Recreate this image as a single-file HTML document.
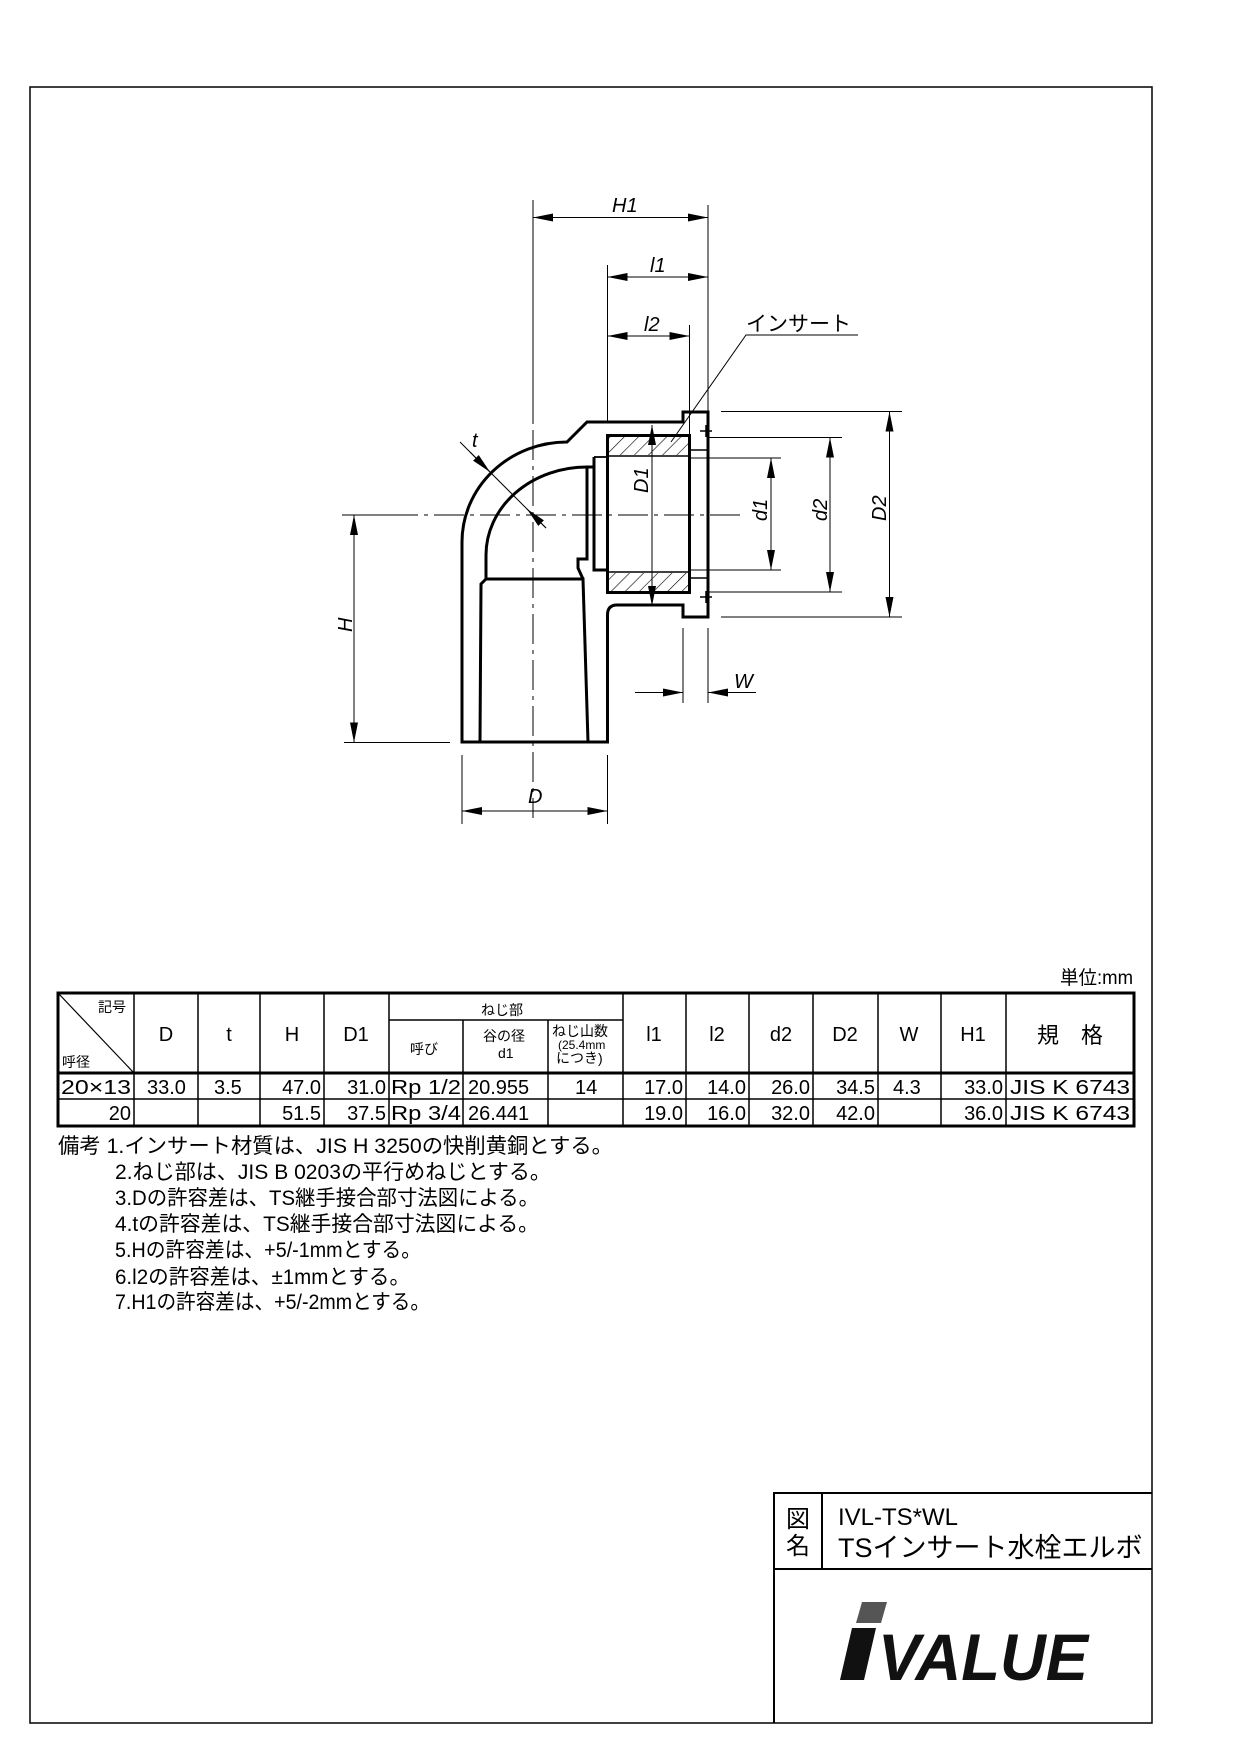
<!DOCTYPE html>
<html><head><meta charset="utf-8"><style>
html,body{margin:0;padding:0;background:#fff}
svg{display:block}
text{font-family:"Liberation Sans","Noto Sans CJK JP",sans-serif;fill:#000}
</style></head><body>
<svg width="1240" height="1753" viewBox="0 0 1240 1753" xmlns="http://www.w3.org/2000/svg">
<defs>
<marker id="a" viewBox="0 0 20 8" refX="20" refY="4" markerWidth="20" markerHeight="8" markerUnits="userSpaceOnUse" orient="auto-start-reverse"><path d="M0,0L20,4L0,8z" fill="#000"/></marker>
<pattern id="h" width="10" height="10" patternUnits="userSpaceOnUse" patternTransform="rotate(45)"><line x1="0" y1="0" x2="0" y2="10" stroke="#000" stroke-width="1.2"/></pattern>
</defs>
<rect x="30" y="87" width="1122" height="1636" fill="none" stroke="#000" stroke-width="1.5"/>

<g stroke="#000" stroke-width="1" fill="none">
<line x1="342" y1="515" x2="740" y2="515" stroke-dasharray="30,6,4,6"/>
<line x1="533" y1="200" x2="533" y2="818" stroke-dasharray="30,6,4,6"/>
</g>
<g stroke="#000" stroke-width="3" fill="none" stroke-linejoin="miter">
<path d="M462,742 L462,542 A105,100 0 0 1 567,442 L587,422 L683,422 L683,412 L708,412 L708,617 L683,617 L683,605 L617,605 Q607.5,605 607.5,615 L607.5,742 Z"/>
<path d="M480,742 L481,584 L486,579 L583,579 L588,742"/>
<path d="M486,579 L486,555 A101,88 0 0 1 587,467 L594,467"/>
<path d="M594,457 L594,570 L607,570"/>
<path d="M587,467 L587,559 L578,559 L578,568 L583,579"/>
<rect x="607.5" y="435.5" width="82" height="157"/>
</g>
<g stroke="#000" stroke-width="1.8" fill="none">
<line x1="594" y1="457" x2="607" y2="457"/>
</g>
<rect x="609" y="437" width="79" height="18" fill="url(#h)"/>
<rect x="609" y="573" width="79" height="18" fill="url(#h)"/>
<g stroke="#000" stroke-width="1.5">
<line x1="607.5" y1="456" x2="689.5" y2="456"/>
<line x1="607.5" y1="572" x2="689.5" y2="572"/>
<line x1="689.5" y1="450" x2="708" y2="450"/>
<line x1="689.5" y1="578" x2="708" y2="578"/>
<line x1="700" y1="431" x2="712" y2="431"/><line x1="706" y1="425" x2="706" y2="437"/>
<line x1="700" y1="597" x2="712" y2="597"/><line x1="706" y1="591" x2="706" y2="603"/>
</g>

<g stroke="#000" stroke-width="1" fill="none">
<line x1="533" y1="205" x2="533" y2="420"/>
<line x1="708" y1="205" x2="708" y2="412"/>
<line x1="533" y1="217.5" x2="708" y2="217.5" marker-start="url(#a)" marker-end="url(#a)"/>
<line x1="607.5" y1="265" x2="607.5" y2="422"/>
<line x1="607.5" y1="277" x2="708" y2="277" marker-start="url(#a)" marker-end="url(#a)"/>
<line x1="689.5" y1="325" x2="689.5" y2="435"/>
<line x1="607.5" y1="336" x2="689.5" y2="336" marker-start="url(#a)" marker-end="url(#a)"/>
<polyline points="858,335 746,335 671,442"/>
<line x1="689.5" y1="458" x2="781" y2="458"/>
<line x1="689.5" y1="570" x2="781" y2="570"/>
<line x1="771" y1="458" x2="771" y2="570" marker-start="url(#a)" marker-end="url(#a)"/>
<line x1="708" y1="437.5" x2="842" y2="437.5"/>
<line x1="708" y1="592" x2="842" y2="592"/>
<line x1="830" y1="437.5" x2="830" y2="592" marker-start="url(#a)" marker-end="url(#a)"/>
<line x1="721" y1="411.5" x2="902" y2="411.5"/>
<line x1="721" y1="617" x2="902" y2="617"/>
<line x1="889.5" y1="411.5" x2="889.5" y2="617" marker-start="url(#a)" marker-end="url(#a)"/>
<line x1="652" y1="425" x2="652" y2="606" marker-start="url(#a)" marker-end="url(#a)"/>
<line x1="344" y1="515" x2="400" y2="515"/>
<line x1="344" y1="742.5" x2="450" y2="742.5"/>
<line x1="354" y1="515" x2="354" y2="742.5" marker-start="url(#a)" marker-end="url(#a)"/>
<line x1="462" y1="755" x2="462" y2="824"/>
<line x1="607.5" y1="755" x2="607.5" y2="824"/>
<line x1="462" y1="811" x2="607.5" y2="811" marker-start="url(#a)" marker-end="url(#a)"/>
<line x1="683" y1="628" x2="683" y2="703"/>
<line x1="708" y1="628" x2="708" y2="703"/>
<line x1="635" y1="692.5" x2="683" y2="692.5" marker-end="url(#a)"/>
<line x1="756" y1="692.5" x2="708" y2="692.5" marker-end="url(#a)"/>
<line x1="460" y1="442" x2="546" y2="528"/>
<line x1="470" y1="452" x2="490" y2="472" marker-end="url(#a)"/>
<line x1="546" y1="528" x2="527" y2="509" marker-end="url(#a)"/>
</g>
<g font-style="italic" font-size="20">
<text x="612" y="212">H1</text>
<text x="650" y="272">l1</text>
<text x="644" y="331">l2</text>
<text x="746" y="331" font-style="normal" font-size="21">インサート</text>
<text x="528" y="803">D</text>
<text x="734" y="688">W</text>
<text x="472" y="447">t</text>
<text transform="translate(648,493) rotate(-90)">D1</text>
<text transform="translate(767,521) rotate(-90)">d1</text>
<text transform="translate(827,521) rotate(-90)">d2</text>
<text transform="translate(886,521) rotate(-90)">D2</text>
<text transform="translate(352,632) rotate(-90)">H</text>
</g>

<text x="1060" y="984" font-size="19" textLength="73" lengthAdjust="spacingAndGlyphs">単位:mm</text>
<g stroke="#000" fill="none">
<rect x="58" y="993" width="1076" height="133" stroke-width="3"/>
<line x1="58" y1="1073" x2="1134" y2="1073" stroke-width="3"/>
<line x1="58" y1="1099" x2="1134" y2="1099" stroke-width="1.5"/>
<line x1="389" y1="1020" x2="623" y2="1020" stroke-width="1.5"/>
<line x1="58" y1="993" x2="134" y2="1073" stroke-width="1.2"/>
<g stroke-width="1.5">
<line x1="134" y1="993" x2="134" y2="1126"/>
<line x1="198" y1="993" x2="198" y2="1126"/>
<line x1="260" y1="993" x2="260" y2="1126"/>
<line x1="324" y1="993" x2="324" y2="1126"/>
<line x1="389" y1="993" x2="389" y2="1126"/>
<line x1="463" y1="1020" x2="463" y2="1126"/>
<line x1="548" y1="1020" x2="548" y2="1126"/>
<line x1="623" y1="993" x2="623" y2="1126"/>
<line x1="686" y1="993" x2="686" y2="1126"/>
<line x1="749" y1="993" x2="749" y2="1126"/>
<line x1="813" y1="993" x2="813" y2="1126"/>
<line x1="878" y1="993" x2="878" y2="1126"/>
<line x1="941" y1="993" x2="941" y2="1126"/>
<line x1="1006" y1="993" x2="1006" y2="1126"/>
</g>
</g>
<g font-size="14">
<text x="98" y="1012">記号</text>
<text x="62" y="1067">呼径</text>
<text x="481" y="1015">ねじ部</text>
<text x="410" y="1054">呼び</text>
<text x="483" y="1041">谷の径</text>
<text x="498" y="1058">d1</text>
<text x="552" y="1036">ねじ山数</text>
<text x="558" y="1049" font-size="12">(25.4mm</text>
<text x="556" y="1063">につき)</text>
</g>
<g font-size="20" text-anchor="middle">
<text x="166" y="1041">D</text><text x="229" y="1041">t</text><text x="292" y="1041">H</text>
<text x="356" y="1041">D1</text><text x="654" y="1041">l1</text><text x="717" y="1041">l2</text>
<text x="781" y="1041">d2</text><text x="845" y="1041">D2</text><text x="909" y="1041">W</text>
<text x="973" y="1041">H1</text><text x="1070" y="1043" font-size="22">規　格</text>
</g>
<g font-size="20">
<text x="61" y="1094" textLength="70" lengthAdjust="spacingAndGlyphs">20×13</text>
<text x="147" y="1094">33.0</text>
<text x="214" y="1094">3.5</text>
<text x="321" y="1094" text-anchor="end">47.0</text>
<text x="386" y="1094" text-anchor="end">31.0</text>
<text x="391" y="1094" textLength="70" lengthAdjust="spacingAndGlyphs">Rp 1/2</text>
<text x="468" y="1094">20.955</text>
<text x="575" y="1094">14</text>
<text x="683" y="1094" text-anchor="end">17.0</text>
<text x="746" y="1094" text-anchor="end">14.0</text>
<text x="810" y="1094" text-anchor="end">26.0</text>
<text x="875" y="1094" text-anchor="end">34.5</text>
<text x="893" y="1094">4.3</text>
<text x="1003" y="1094" text-anchor="end">33.0</text>
<text x="1010" y="1094" textLength="120" lengthAdjust="spacingAndGlyphs">JIS K 6743</text>
<text x="131" y="1120" text-anchor="end">20</text>
<text x="321" y="1120" text-anchor="end">51.5</text>
<text x="386" y="1120" text-anchor="end">37.5</text>
<text x="391" y="1120" textLength="70" lengthAdjust="spacingAndGlyphs">Rp 3/4</text>
<text x="468" y="1120">26.441</text>
<text x="683" y="1120" text-anchor="end">19.0</text>
<text x="746" y="1120" text-anchor="end">16.0</text>
<text x="810" y="1120" text-anchor="end">32.0</text>
<text x="875" y="1120" text-anchor="end">42.0</text>
<text x="1003" y="1120" text-anchor="end">36.0</text>
<text x="1010" y="1120" textLength="120" lengthAdjust="spacingAndGlyphs">JIS K 6743</text>
</g>
<g font-size="21">
<text x="58" y="1153" textLength="555" lengthAdjust="spacingAndGlyphs">備考 1.インサート材質は、JIS H 3250の快削黄銅とする。</text>
<text x="115" y="1179" textLength="436" lengthAdjust="spacingAndGlyphs">2.ねじ部は、JIS B 0203の平行めねじとする。</text>
<text x="115" y="1205" textLength="424" lengthAdjust="spacingAndGlyphs">3.Dの許容差は、TS継手接合部寸法図による。</text>
<text x="115" y="1231" textLength="424" lengthAdjust="spacingAndGlyphs">4.tの許容差は、TS継手接合部寸法図による。</text>
<text x="115" y="1257" textLength="306" lengthAdjust="spacingAndGlyphs">5.Hの許容差は、+5/-1mmとする。</text>
<text x="115" y="1284" textLength="295" lengthAdjust="spacingAndGlyphs">6.l2の許容差は、±1mmとする。</text>
<text x="115" y="1309" textLength="315" lengthAdjust="spacingAndGlyphs">7.H1の許容差は、+5/-2mmとする。</text>
</g>

<g stroke="#000" stroke-width="2" fill="none">
<path d="M774,1723 L774,1493 L1152,1493"/>
<line x1="774" y1="1569" x2="1152" y2="1569"/>
<line x1="822" y1="1493" x2="822" y2="1569"/>
</g>
<text x="786" y="1527" font-size="24">図</text>
<text x="786" y="1554" font-size="24">名</text>
<text x="838" y="1525" font-size="24">IVL-TS*WL</text>
<text x="838" y="1557" font-size="27">TSインサート水栓エルボ</text>
<polygon points="862,1602 887,1602 881,1623 856,1623" fill="#555"/>
<polygon points="852,1628 876,1628 864,1680 840,1680" fill="#111"/>
<text x="878" y="1680" font-size="66" font-weight="bold" font-style="italic" textLength="210" lengthAdjust="spacingAndGlyphs" style="fill:#111">VALUE</text>
</svg>
</body></html>
